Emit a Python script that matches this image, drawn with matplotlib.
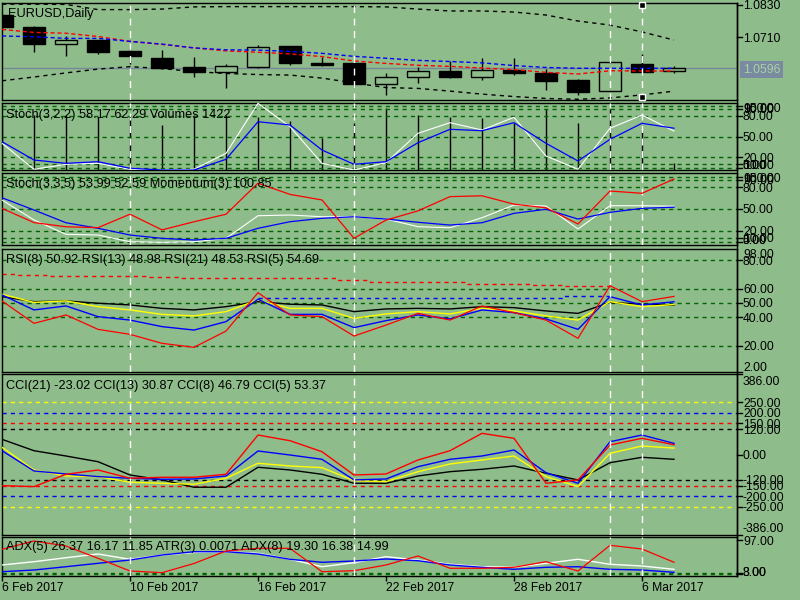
import matplotlib
matplotlib.use("Agg")
import matplotlib.pyplot as plt
from matplotlib.patches import Rectangle
from matplotlib.lines import Line2D

# ---- data ----
tick_idx = [0, 4, 8, 12, 16, 20]
tick_lbl = ['6 Feb 2017', '10 Feb 2017', '16 Feb 2017', '22 Feb 2017', '28 Feb 2017', '6 Mar 2017']

opens  = [1.0792, 1.0748, 1.0685, 1.0700, 1.0660, 1.0634, 1.0601, 1.0582, 1.0601, 1.0678, 1.0616,
          1.0616, 1.0538, 1.0564, 1.0586, 1.0564, 1.0590, 1.0579, 1.0553, 1.0512, 1.0612, 1.0586]
highs  = [1.0796, 1.0752, 1.0715, 1.0700, 1.0671, 1.0663, 1.0638, 1.0612, 1.0682, 1.0678, 1.0638,
          1.0616, 1.0579, 1.0601, 1.0623, 1.0634, 1.0634, 1.0593, 1.0557, 1.0623, 1.0649, 1.0604]
lows   = [1.0744, 1.0656, 1.0641, 1.0649, 1.0612, 1.0593, 1.0564, 1.0524, 1.0597, 1.0608, 1.0604,
          1.0527, 1.0498, 1.0542, 1.0560, 1.0553, 1.0571, 1.0516, 1.0498, 1.0512, 1.0582, 1.0579]
closes = [1.0748, 1.0685, 1.0700, 1.0656, 1.0641, 1.0597, 1.0582, 1.0604, 1.0674, 1.0616, 1.0608,
          1.0538, 1.0564, 1.0586, 1.0564, 1.0590, 1.0579, 1.0549, 1.0509, 1.0619, 1.0582, 1.0596]

band_up = [1.0832, 1.0832, 1.0831, 1.0812, 1.0812, 1.0814, 1.0822, 1.0823, 1.0823, 1.0823, 1.0823,
           1.0823, 1.0822, 1.0814, 1.0807, 1.0807, 1.0803, 1.0792, 1.0770, 1.0755, 1.0730, 1.0700]
band_dn = [1.0550, 1.0564, 1.0579, 1.0593, 1.0602, 1.0595, 1.0584, 1.0577, 1.0573, 1.0571, 1.0560,
           1.0542, 1.0525, 1.0522, 1.0512, 1.0501, 1.0492, 1.0485, 1.0482, 1.0487, 1.0498, 1.0512]
ma_red  = [1.0739, 1.0728, 1.0725, 1.0713, 1.0695, 1.0684, 1.0671, 1.0660, 1.0655, 1.0649, 1.0639,
           1.0623, 1.0614, 1.0607, 1.0603, 1.0597, 1.0591, 1.0581, 1.0575, 1.0587, 1.0586, 1.0586]
ma_blue = [1.0715, 1.0712, 1.0706, 1.0706, 1.0695, 1.0685, 1.0671, 1.0664, 1.0663, 1.0658, 1.0651,
           1.0640, 1.0633, 1.0625, 1.0621, 1.0616, 1.0606, 1.0599, 1.0596, 1.0596, 1.0596, 1.0596]
bid = 1.0596

volumes = [10500, 10710, 10710, 10380, 10380, 8770, 10710, 10710, 10380, 9600, 6290,
           9210, 12020, 10710, 10380, 10070, 9160, 11820, 9100, 11820, 7660, 1422]
st1_blue  = [42.8, 16.2, 11.4, 13.8, 4.2, 1.7, 1.7, 17.2, 71.7, 67.0, 30.7,
             10.0, 13.8, 41.3, 60.7, 58.7, 70.3, 40.4, 14.8, 46.2, 69.4, 62.29]
st1_white = [40.4, 2.8, 10.0, 11.4, 2.8, 1.7, 2.8, 25.9, 98.4, 64.5, 11.4,
             1.7, 12.3, 54.9, 70.3, 59.7, 78.1, 22.0, 2.8, 62.2, 81.4, 58.17]

st2_blue  = [65.7, 48.7, 31.1, 23.4, 14.1, 9.5, 7.2, 9.5, 23.4, 32.5, 37.2,
             39.4, 36.2, 31.7, 27.9, 31.1, 44.1, 49.7, 36.2, 45.5, 51.0, 52.59]
st2_white = [62.5, 34.9, 15.1, 14.1, 4.8, 4.0, 4.8, 9.5, 40.8, 41.8, 39.4,
             39.4, 36.2, 25.6, 24.2, 38.0, 55.6, 54.2, 22.4, 54.6, 54.6, 53.99]
momentum  = [99.80, 99.29, 99.14, 99.11, 99.59, 99.03, 99.32, 99.59, 100.70, 100.30, 100.10,
             98.73, 99.38, 99.71, 100.22, 100.25, 99.95, 99.82, 99.24, 100.42, 100.34, 100.85]

rsi5  = [51.5, 35.8, 41.7, 31.6, 28.1, 21.8, 19.0, 30.4, 57.3, 41.7, 40.5,
         26.9, 34.6, 42.8, 38.1, 48.0, 43.3, 38.1, 25.3, 62.2, 51.0, 54.69]
rsi8  = [55.7, 45.2, 48.0, 40.5, 38.1, 33.5, 31.1, 37.0, 52.7, 42.1, 42.1,
         32.8, 37.7, 41.7, 38.9, 45.2, 43.3, 38.9, 31.6, 54.5, 48.7, 50.92]
rsi13 = [56.2, 50.5, 51.5, 47.5, 45.2, 42.1, 41.0, 44.0, 52.2, 46.3, 46.3,
         39.3, 42.4, 44.0, 42.4, 46.3, 44.5, 41.0, 38.1, 51.0, 47.5, 48.98]
rsi21 = [54.5, 51.0, 51.5, 49.9, 48.7, 46.3, 45.2, 47.5, 51.0, 49.2, 48.7,
         44.0, 45.9, 46.3, 45.9, 47.5, 46.8, 44.5, 42.8, 50.5, 49.2, 48.53]
rsi_red_dash  = [70.2, 69.7, 69.2, 69.2, 69.2, 68.1, 67.4, 67.4, 67.4, 67.4,
                 67.4, 66.0, 65.0, 64.6, 64.6, 63.4, 63.4, 62.7, 62.0, 62.0]
rsi_blue_dash = [53.4, 53.4, 53.4, 53.4, 53.4, 53.4, 53.4, 53.4, 53.4, 53.4, 55.0, 55.0]
rsi_blue_start = 8

cci21 = [72.8, 18.2, -7.2, -34.5, -98.2, -122.0, -157.0, -157.0, -61.3, -74.2, -94.8,
         -138.0, -138.0, -103.0, -82.4, -70.9, -55.0, -90.0, -122.0, -39.3, -13.4, -23.02]
cci13 = [34.5, -74.2, -103.0, -106.3, -133.0, -138.0, -142.7, -114.0, -42.1, -55.0, -63.2,
         -125.5, -130.0, -82.4, -45.5, -26.3, -7.2, -106.3, -154.0, 5.7, 40.7, 30.87]
cci5  = [18.2, -79.0, -93.4, -106.0, -114.0, -118.8, -117.3, -103.0, 16.8, -2.4, -23.0,
         -122.0, -117.3, -58.4, -23.0, -7.2, 21.6, -87.2, -138.0, 61.3, 93.4, 53.37]
cci8  = [-149.4, -154.0, -94.8, -74.2, -114.0, -109.2, -109.2, -94.8, 93.4, 66.1, 13.4,
         -98.2, -93.4, -26.3, 18.2, 101.5, 77.6, -138.0, -122.0, 45.5, 77.6, 46.79]
cci_levels = [(250, 'yellow'), (200, 'blue'), (150, 'red'), (120, 'black'),
              (-120, 'black'), (-150, 'red'), (-200, 'blue'), (-250, 'yellow')]

adx_red   = [71.6, 94.3, 80.6, 47.0, 12.3, 7.7, 32.8, 67.0, 74.3, 74.3, 10.4,
             13.1, 28.7, 53.3, 19.7, 19.7, 22.4, 37.7, 12.3, 82.5, 72.4, 36.1]
adx_white = [28.7, 37.7, 48.6, 58.7, 44.3, 56.0, 63.0, 65.0, 60.6, 44.3, 24.0,
             35.0, 51.4, 42.3, 30.6, 24.0, 22.4, 33.3, 44.3, 30.6, 26.0, 16.9]
adx_blue  = [10.4, 15.0, 24.0, 33.3, 42.3, 56.0, 65.0, 65.0, 58.7, 44.3, 36.1,
             39.6, 45.1, 40.4, 28.7, 22.4, 16.9, 22.4, 24.0, 16.9, 15.0, 8.7]
adx_levels = [7.65, 3.3]

vlines_idx = [4, 11, 19, 20]

# ---- look ----
BG = '#8FBC8B'
LVL = '#006400'
FS = 8.7        # axis labels
FS_CAP = 9.2    # panel captions
W, H = 800, 600
L_PX, R_PX = 2.0, 737.0
STEP = 32.0
plt.rcParams['font.family'] = ['Liberation Sans', 'DejaVu Sans']

fig = plt.figure(figsize=(8, 6), dpi=100, facecolor=BG)
n = len(closes)
idx = list(range(n))


def panel(top, bot, lo, hi):
    ax = fig.add_axes([L_PX / W, 1 - bot / H, (R_PX - L_PX) / W, (bot - top) / H])
    ax.set_facecolor(BG)
    ax.set_xlim(0, (R_PX - L_PX) / STEP)
    ax.set_ylim(lo, hi)
    ax.set_xticks([])
    ax.set_yticks([])
    for sp in ax.spines.values():
        sp.set_linewidth(1.0)
        sp.set_color('black')
    ax.pxh = bot - top
    return ax


def right_labels(ax, items, margin=5):
    lo, hi = ax.get_ylim()
    m = margin * (hi - lo) / ax.pxh
    for v, s in items:
        if lo <= v <= hi:
            ax.plot([1, 1 + 5 / (R_PX - L_PX)], [v, v], transform=ax.get_yaxis_transform(),
                    color='black', lw=1, clip_on=False)
        vc = min(max(v, lo + m), hi - m)
        ax.annotate(s, xy=(1, vc), xycoords=ax.get_yaxis_transform(), xytext=(6, -4.3),
                    textcoords='offset pixels', va='baseline', ha='left', fontsize=FS,
                    annotation_clip=False)


def levels(ax, vals, color=LVL):
    for v in vals:
        ax.axhline(v, color=color, lw=1, ls=(0, (3, 3)), zorder=1)


def vmarks(ax):
    for i in vlines_idx:
        ax.axvline(i, color='white', lw=1, ls=(0, (5, 4)), zorder=6)


# ---- main price panel ----
ax0 = panel(3, 100, 1.04793, 1.08363)
ax0.axhline(bid, color='#778899', lw=1, zorder=1)
for i in idx:
    o, h, l, c = opens[i], highs[i], lows[i], closes[i]
    bull = c >= o
    ax0.vlines(i, l, h, color='black', lw=1, zorder=2)
    ax0.add_patch(Rectangle((i - 0.35, min(o, c)), 0.7, max(abs(c - o), 0.00008),
                            facecolor=BG if bull else 'black', edgecolor='black', lw=1, zorder=3))
ax0.plot(idx, band_up, color='black', lw=1, ls=(0, (3, 3)), zorder=4)
ax0.plot(idx, band_dn, color='black', lw=1, ls=(0, (3, 3)), zorder=4)
ax0.plot(idx, ma_red, color='red', lw=1, ls=(0, (3, 2)), zorder=4)
ax0.plot(idx, ma_blue, color='blue', lw=1, ls=(0, (3, 2)), zorder=4)
vmarks(ax0)
ax0.plot([20, 20], [0.98, 0.03], 's', ms=4, mfc='black', mec='white', mew=1,
         transform=ax0.get_xaxis_transform(), clip_on=False, zorder=7)
right_labels(ax0, [(1.0830, '1.0830'), (1.0710, '1.0710')], margin=1.5)
# bid price tag
ax0.annotate('1.0596', xy=(1, bid), xycoords=ax0.get_yaxis_transform(), xytext=(6, -4.3),
             textcoords='offset pixels', va='baseline', ha='left', fontsize=FS,
             color='#A9D3A2', annotation_clip=False,
             bbox=dict(boxstyle='square,pad=0.22', facecolor='#7A8AA0', edgecolor='none'))

# ---- Stoch(3,2,2) + Volumes ----
ax1 = panel(103, 170, 1.74, 98.84)
axv = ax1.twinx()
axv.set_ylim(0, 13050)
axv.set_yticks([])
for sp in axv.spines.values():
    sp.set_visible(False)
axv.vlines(idx, 0, volumes, color='black', lw=1)
ax1.set_zorder(axv.get_zorder() + 1)
ax1.patch.set_visible(False)
levels(ax1, [95, 90, 80, 50, 20, 10, 5])
ax1.plot(idx, st1_white, color='white', lw=0.8, zorder=3)
ax1.plot(idx, st1_blue, color='blue', lw=0.9, zorder=3)
vmarks(ax1)
right_labels(ax1, [(100, '100.00'), (95, '95.00'), (90, '90.00'), (80, '80.00'), (50, '50.00'),
                   (20, '20.00'), (10, '10.00'), (5, '5.00'), (0, '0.00')])

# ---- Stoch(3,3,5) + Momentum ----
ax2 = panel(173, 245, 0.3, 99.9)
levels(ax2, [95, 90, 80, 50, 20, 10, 5])
ax2.plot(idx, st2_white, color='white', lw=0.8, zorder=3)
ax2.plot(idx, st2_blue, color='blue', lw=0.9, zorder=3)
vmarks(ax2)
axm = ax2.twinx()
axm.set_ylim(98.488, 101.066)
axm.set_yticks([])
for sp in axm.spines.values():
    sp.set_visible(False)
axm.plot(idx, momentum, color='red', lw=0.9)
right_labels(ax2, [(100, '100.00'), (95, '95.00'), (90, '90.00'), (80, '80.00'), (50, '50.00'),
                   (20, '20.00'), (10, '10.00'), (5, '5.00'), (0, '0.00')])

# ---- RSI ----
ax3 = panel(249, 372, 1.71, 87.9)
levels(ax3, [80, 60, 50, 40, 20])
ax3.plot(range(len(rsi_red_dash)), rsi_red_dash, color='red', lw=1, ls=(0, (3, 3)),
         drawstyle='steps-mid', zorder=2)
ax3.plot(range(rsi_blue_start, rsi_blue_start + len(rsi_blue_dash)), rsi_blue_dash,
         color='blue', lw=1, ls=(0, (3, 3)), drawstyle='steps-mid', zorder=2)
ax3.plot(idx, rsi21, color='black', lw=1, zorder=3)
ax3.plot(idx, rsi13, color='yellow', lw=1, zorder=3)
ax3.plot(idx, rsi8, color='blue', lw=1, zorder=3)
ax3.plot(idx, rsi5, color='red', lw=0.9, zorder=3)
vmarks(ax3)
right_labels(ax3, [(98, '98.00'), (80, '80.00'), (60, '60.00'), (50, '50.00'), (40, '40.00'),
                   (20, '20.00'), (2, '2.00')], margin=5)

# ---- CCI ----
ax4 = panel(374, 535, -386, 386)
for v, c in cci_levels:
    ax4.axhline(v, color=c, lw=1, ls=(0, (3, 3)), zorder=1)
ax4.plot(idx, cci21, color='black', lw=1, zorder=3)
ax4.plot(idx, cci13, color='yellow', lw=1, zorder=3)
ax4.plot(idx, cci5, color='blue', lw=1, zorder=3)
ax4.plot(idx, cci8, color='red', lw=1, zorder=3)
vmarks(ax4)
right_labels(ax4, [(386, '386.00'), (250, '250.00'), (200, '200.00'), (150, '150.00'),
                   (120, '120.00'), (0, '0.00'), (-120, '-120.00'), (-150, '-150.00'),
                   (-200, '-200.00'), (-250, '-250.00'), (-386, '-386.00')], margin=7)

# ---- ADX / ATR ----
ax5 = panel(537, 576, -1.37, 105.2)
levels(ax5, adx_levels)
ax5.plot(idx, adx_white, color='white', lw=1, zorder=3)
ax5.plot(idx, adx_blue, color='blue', lw=1, zorder=3)
ax5.plot(idx, adx_red, color='red', lw=0.9, zorder=3)
vmarks(ax5)
right_labels(ax5, [(97, '97.00'), (adx_levels[0], '8.00'), (adx_levels[1], '3.00')], margin=4)

ax5.set_xticks(tick_idx)
ax5.set_xticklabels(tick_lbl)
ax5.tick_params(axis='x', direction='out', length=3.5, width=1, pad=1.0, labelsize=FS)
for lab in ax5.get_xticklabels():
    lab.set_horizontalalignment('left')

# continuous right axis line
fig.add_artist(Line2D([R_PX / W, R_PX / W], [1 - 3 / H, 1 - 576 / H], color='black', lw=1))

# panel captions
captions = [(8, 16.5, 'EURUSD,Daily'),
            (6, 118, 'Stoch(3,2,2) 58.17 62.29 Volumes 1422'),
            (6, 187.3, 'Stoch(3,3,5) 53.99 52.59 Momentum(3) 100.85'),
            (6, 263.3, 'RSI(8) 50.92 RSI(13) 48.98 RSI(21) 48.53 RSI(5) 54.69'),
            (6, 389, 'CCI(21) -23.02 CCI(13) 30.87 CCI(8) 46.79 CCI(5) 53.37'),
            (6, 550, 'ADX(5) 26.37 16.17 11.85 ATR(3) 0.0071 ADX(8) 19.30 16.38 14.99')]
for x, y, s in captions:
    fig.text(x / W, 1 - y / H, s, fontsize=FS_CAP, va='baseline', ha='left', color='black')

fig.savefig('out.png', dpi=100, facecolor=BG)
